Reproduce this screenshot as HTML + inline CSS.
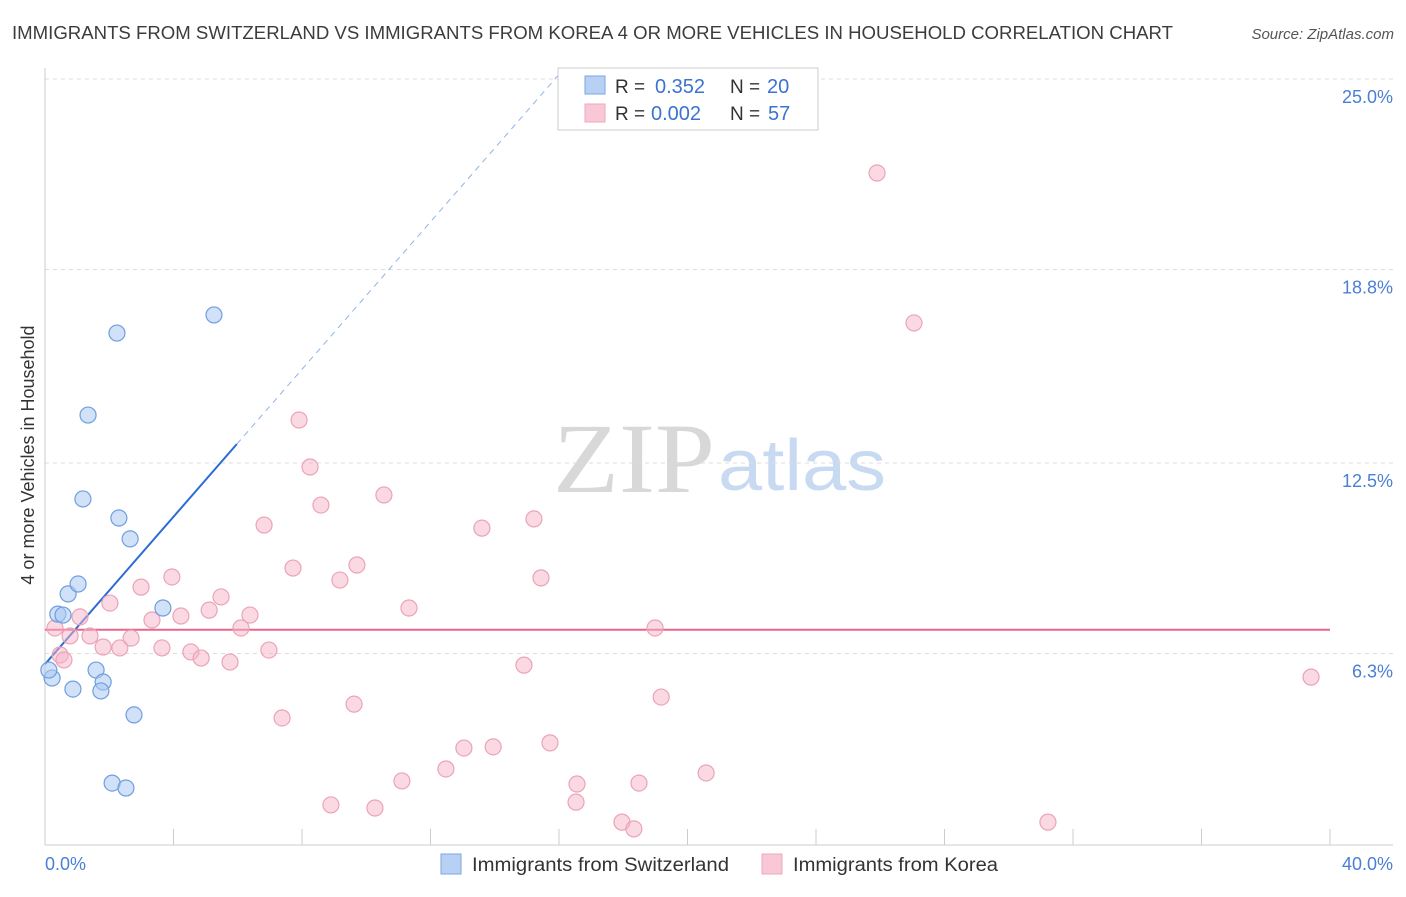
<!DOCTYPE html>
<html><head><meta charset="utf-8"><style>
body{margin:0;background:#fff;font-family:"Liberation Sans",sans-serif;}
svg text{font-family:"Liberation Sans",sans-serif;}
</style></head><body>
<svg id="chart" width="1406" height="892" xmlns="http://www.w3.org/2000/svg">
<text x="12" y="39" font-size="18" fill="#3c3c3c" textLength="1161" lengthAdjust="spacingAndGlyphs">IMMIGRANTS FROM SWITZERLAND VS IMMIGRANTS FROM KOREA 4 OR MORE VEHICLES IN HOUSEHOLD CORRELATION CHART</text>
<text x="1394" y="39" font-size="15" fill="#555" font-style="italic" text-anchor="end">Source: ZipAtlas.com</text>
<g>
<text x="553" y="492" font-size="100" fill="#d8d8d8" style="font-family:'Liberation Serif',serif" textLength="162" lengthAdjust="spacingAndGlyphs">ZIP</text>
<text x="718" y="490" font-size="72" fill="#c8daf2" textLength="168" lengthAdjust="spacingAndGlyphs">atlas</text>
</g>
<g id="grid"></g>
<g id="axes"></g>
<g id="trends"></g>
<g id="points"></g>
<text transform="translate(34,455) rotate(-90)" font-size="18" fill="#333" text-anchor="middle">4 or more Vehicles in Household</text>
<text x="45" y="870" font-size="18" fill="#4a7fd4">0.0%</text>
<text x="1393" y="870" font-size="18" fill="#4a7fd4" text-anchor="end">40.0%</text>
<g>
<rect x="558" y="68" width="260" height="62" fill="#fff" stroke="#ccc"/>
<rect x="585" y="76" width="20" height="18" fill="#b8d0f4" stroke="#7aa6e6"/>
<rect x="585" y="104" width="20" height="18" fill="#f8c8d6" stroke="#eeaabd"/>
<text x="615" y="93" font-size="19" fill="#333">R =</text>
<text x="655" y="93" font-size="20" fill="#3a74d0">0.352</text>
<text x="730" y="93" font-size="19" fill="#333">N =</text>
<text x="767" y="93" font-size="20" fill="#3a74d0">20</text>
<text x="615" y="120" font-size="19" fill="#333">R =</text>
<text x="651" y="120" font-size="20" fill="#3a74d0">0.002</text>
<text x="730" y="120" font-size="19" fill="#333">N =</text>
<text x="768" y="120" font-size="20" fill="#3a74d0">57</text>
</g>
<g>
<rect x="441" y="854" width="20" height="20" fill="#b8d0f4" stroke="#7aa6e6"/>
<text x="472" y="871" font-size="19" fill="#333" textLength="257" lengthAdjust="spacingAndGlyphs">Immigrants from Switzerland</text>
<rect x="762" y="854" width="20" height="20" fill="#f8c8d6" stroke="#eeaabd"/>
<text x="793" y="871" font-size="19" fill="#333" textLength="205" lengthAdjust="spacingAndGlyphs">Immigrants from Korea</text>
</g>
</svg>
<script>
const yTicks=[25,18.8,12.5,6.3];
const yTickLabels=["25.0%","18.8%","12.5%","6.3%"];
const xTicks=[0,4,8,12,16,20,24,28,32,36,40];
const swissX=[0.22,0.12,0.40,0.56,0.72,1.03,1.18,1.34,2.24,2.30,2.65,3.67,5.26,1.59,1.81,1.74,0.87,2.77,2.09,2.52];
const swissY=[5.50,5.76,7.58,7.55,8.24,8.56,11.33,14.06,16.73,10.71,10.03,7.78,17.32,5.76,5.37,5.08,5.14,4.30,2.08,1.92];
const koreaX=[25.90,27.05,7.91,8.25,8.59,10.55,6.82,13.60,15.22,7.72,9.71,9.18,15.44,3.95,2.99,2.02,5.48,5.11,6.38,3.33,4.23,1.09,6.10,11.33,18.99,0.78,1.40,2.68,1.81,2.33,3.64,4.54,4.86,5.76,6.97,14.91,39.41,19.18,9.62,7.38,13.04,13.95,15.72,12.48,11.11,16.56,18.49,20.58,16.53,8.90,10.27,17.96,18.33,31.22,0.31,0.47,0.59];
const koreaY=[21.94,17.06,13.90,12.37,11.13,11.46,10.48,10.38,10.68,9.08,9.18,8.69,8.76,8.79,8.46,7.94,8.14,7.71,7.55,7.39,7.52,7.49,7.13,7.78,7.13,6.87,6.87,6.80,6.51,6.48,6.48,6.35,6.15,6.02,6.41,5.92,5.53,4.88,4.65,4.20,3.22,3.26,3.39,2.54,2.15,2.05,2.08,2.41,1.46,1.37,1.27,0.81,0.59,0.81,7.13,6.25,6.09];
const swissTrend=[5.95,1.2];
const koreaTrend=[7.07,0.0];
const sx=v=>45+v*32.125, sy=v=>847-v*30.72;
const NS="http://www.w3.org/2000/svg";
function mk(t,a,p){const e=document.createElementNS(NS,t);for(const k in a)e.setAttribute(k,a[k]);document.getElementById(p).appendChild(e);return e;}
yTicks.forEach((t,i)=>{
 const l=mk('line',{x1:45,x2:1393,y1:sy(t),y2:sy(t),stroke:'#ddd','stroke-dasharray':'4,4'},'grid');
 
 
 const tx=mk('text',{x:1393,y:sy(t)+24,'font-size':18,fill:'#4a7fd4','text-anchor':'end'},'grid');
 tx.textContent=yTickLabels[i];
 
 
});
const ya=mk('line',{x1:45,x2:45,y1:68,y2:845,stroke:'#ccc'},'axes');


const xa=mk('line',{x1:45,x2:1393,y1:845,y2:845,stroke:'#ccc'},'axes');


xTicks.forEach(t=>{
 const l=mk('line',{x1:sx(t),x2:sx(t),y1:829,y2:845,stroke:'#ccc'},'axes');
 
 
});
function dot(x,y,f,s,n){const c=mk('circle',{cx:sx(x),cy:sy(y),r:8,fill:f,stroke:s,'stroke-width':1.2},'points');
 
 }
koreaX.forEach((x,i)=>dot(x,koreaY[i],'rgba(246,180,200,0.5)','#eba3b9','korea-point'));
swissX.forEach((x,i)=>dot(x,swissY[i],'rgba(170,200,242,0.55)','#6f9ee0','switzerland-point'));
const bx1=5.97,bx2=16;
const b1=mk('line',{x1:sx(0),y1:sy(swissTrend[0]),x2:sx(bx1),y2:sy(swissTrend[0]+swissTrend[1]*bx1),stroke:'#2a6cd6','stroke-width':2},'trends');


const b2=mk('line',{x1:sx(bx1),y1:sy(swissTrend[0]+swissTrend[1]*bx1),x2:sx(bx2),y2:sy(swissTrend[0]+swissTrend[1]*bx2),stroke:'#8fb4e8','stroke-width':1,'stroke-dasharray':'6,5'},'trends');


const k1=mk('line',{x1:sx(0),y1:sy(koreaTrend[0]),x2:sx(40),y2:sy(koreaTrend[0]+koreaTrend[1]*40),stroke:'#e8668e','stroke-width':2},'trends');


</script>
</body></html>
